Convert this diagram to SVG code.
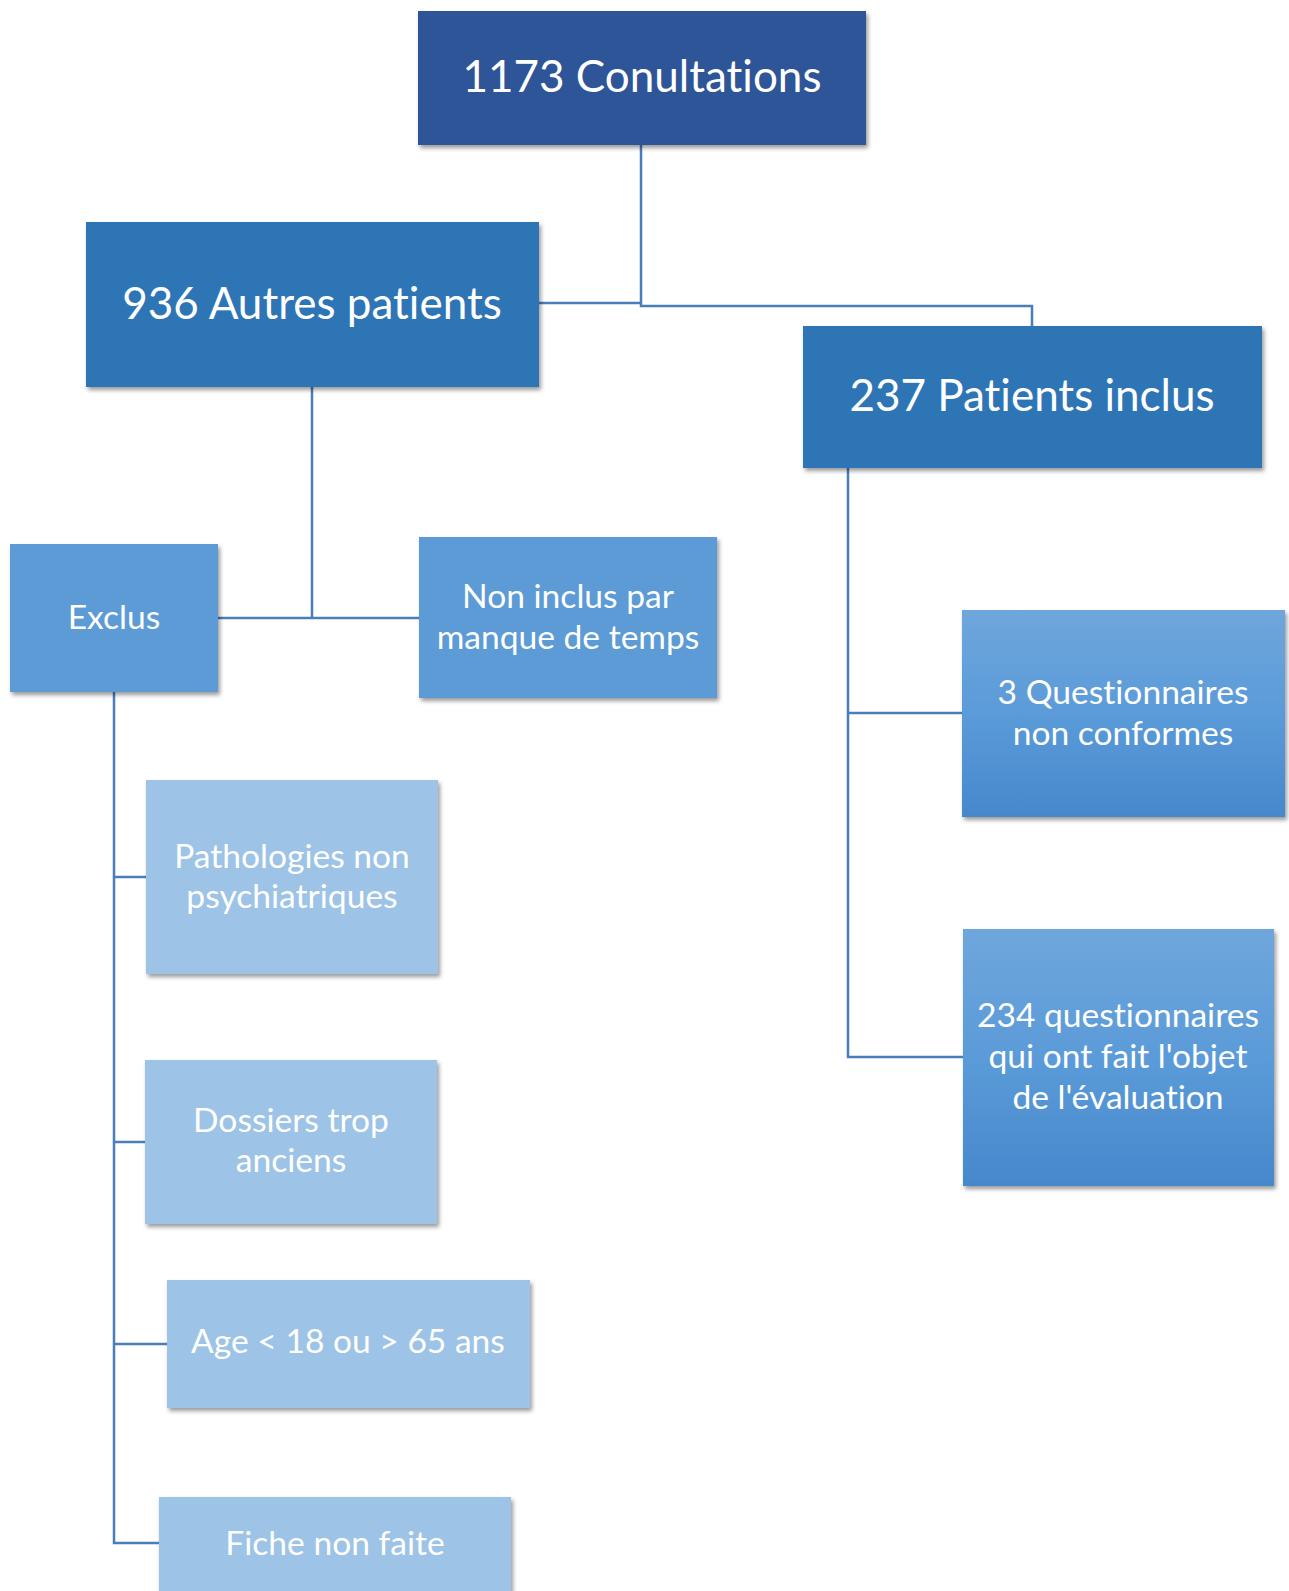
<svg xmlns="http://www.w3.org/2000/svg" width="1289" height="1591" viewBox="0 0 1289 1591">
  <defs>
    <filter id="sh" x="-10%" y="-10%" width="125%" height="130%">
      <feDropShadow dx="2" dy="3" stdDeviation="2.2" flood-color="#000" flood-opacity="0.4"/>
    </filter>
    <linearGradient id="grad" x1="0" y1="0" x2="0" y2="1">
      <stop offset="0" stop-color="#6FA6DC"/>
      <stop offset="0.5" stop-color="#5B9BD9"/>
      <stop offset="1" stop-color="#4688CC"/>
    </linearGradient>
    <style>
      .box { filter: url(#sh); }
      .t { font-family: Lato, "Liberation Sans", sans-serif; fill: #fff; text-anchor: middle; font-variant-ligatures: none; font-feature-settings: "liga" 0, "clig" 0; }
      .big { font-size: 44px; }
      .small { font-size: 33.6px; }
      .c1 { fill: #2F5597; }
      .c2 { fill: #2E75B6; }
      .c3 { fill: #5B9BD5; }
      .c4 { fill: #9DC3E6; }
      .cg { fill: url(#grad); }
      .conn { fill: none; stroke: #4A7EBB; stroke-width: 2.5; }
    </style>
  </defs>
  <rect width="1289" height="1591" fill="#fff"/>

  <g id="connectors">
    <path class="conn" d="M641,145 V306 H1032 V326"/>
    <path class="conn" d="M539,303 H641"/>
    <path class="conn" d="M312,387 V618"/>
    <path class="conn" d="M218,618 H419"/>
    <path class="conn" d="M114,692 V1543 H159"/>
    <path class="conn" d="M114,877 H146"/>
    <path class="conn" d="M114,1142 H145"/>
    <path class="conn" d="M114,1344 H167"/>
    <path class="conn" d="M848,468 V1057 H963"/>
    <path class="conn" d="M848,713 H962"/>
  </g>

  <g id="n-consultations">
    <rect class="box c1" x="418" y="11" width="448" height="134"/>
    <text class="t big" x="642" y="92">1173 Conultations</text>
  </g>
  <g id="n-autres">
    <rect class="box c2" x="86" y="222" width="453" height="165"/>
    <text class="t big" x="312" y="319">936 Autres patients</text>
  </g>
  <g id="n-inclus">
    <rect class="box c2" x="803" y="326" width="459" height="142"/>
    <text class="t big" x="1032" y="411">237 Patients inclus</text>
  </g>
  <g id="n-exclus">
    <rect class="box c3" x="10" y="544" width="208" height="148"/>
    <text class="t small" x="114" y="629">Exclus</text>
  </g>
  <g id="n-noninclus">
    <rect class="box c3" x="419" y="537" width="298" height="161"/>
    <text class="t small" x="568" y="608">Non inclus par</text>
    <text class="t small" x="568" y="649">manque de temps</text>
  </g>
  <g id="n-q3">
    <rect class="box cg" x="962" y="610" width="323" height="207"/>
    <text class="t small" x="1123" y="704">3 Questionnaires</text>
    <text class="t small" x="1123" y="745">non conformes</text>
  </g>
  <g id="n-q234">
    <rect class="box cg" x="963" y="929" width="311" height="257"/>
    <text class="t small" x="1118" y="1027">234 questionnaires</text>
    <text class="t small" x="1118" y="1068">qui ont fait l'objet</text>
    <text class="t small" x="1118" y="1109">de l'évaluation</text>
  </g>
  <g id="n-patho">
    <rect class="box c4" x="146" y="780" width="292" height="194"/>
    <text class="t small" x="292" y="868">Pathologies non</text>
    <text class="t small" x="292" y="908">psychiatriques</text>
  </g>
  <g id="n-dossiers">
    <rect class="box c4" x="145" y="1060" width="292" height="164"/>
    <text class="t small" x="291" y="1132">Dossiers trop</text>
    <text class="t small" x="291" y="1172">anciens</text>
  </g>
  <g id="n-age">
    <rect class="box c4" x="167" y="1280" width="363" height="128"/>
    <text class="t small" x="348" y="1353">Age &lt; 18 ou &gt; 65 ans</text>
  </g>
  <g id="n-fiche">
    <rect class="box c4" x="159" y="1497" width="352" height="110"/>
    <text class="t small" x="335" y="1555">Fiche non faite</text>
  </g>
</svg>
